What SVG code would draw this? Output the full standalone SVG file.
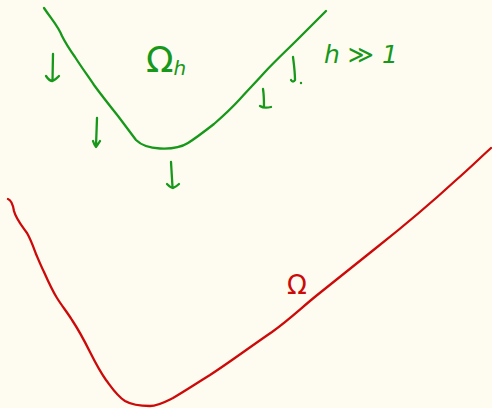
<svg xmlns="http://www.w3.org/2000/svg" width="492" height="408" viewBox="0 0 492 408">
<style>
.g{fill:none;stroke:#17981a;stroke-width:2.3;stroke-linecap:round;stroke-linejoin:round}
.r{fill:none;stroke:#cc0a0a;stroke-width:2.3;stroke-linecap:round;stroke-linejoin:round}
.tg{fill:#17981a;font-family:"DejaVu Sans",sans-serif}
.tr{fill:#cc0a0a;font-family:"DejaVu Sans",sans-serif}
</style>
<rect width="492" height="408" fill="#fefcf0"/>
<g id="omega_h_curve">
<path class="g" d="M44,8 C52,20 58,26 62,36 C66,44 70,50 75,57 C82,68 88,76 94,85 C102,96 110,106 118,116 C124,124 130,132 136,140 C142,146 150,148 160,148.5 C170,149 180,148 188,143 C196,138 205,131 214,124 C222,117 230,110 240,99 C248,90 256,82 264,73 C275,61 286,51 297,40 C307,30 316,21 326,11"/>
</g>
<g id="omega_curve">
<path class="r" d="M8,199 C11,200 13,205 14,211 C16,219 22,226 27,233 C31,240 33,246 36,254 C39,261 41,266 44,272 C48,281 52,290 57,298 C62,306 67,312 72,320 C78,329 84,340 90,352 C95,362 99,370 106,380 C112,388 117,396 125,401 C132,405 140,406 150,406 C158,406 165,402 173,398 C185,391 197,383 210,375 C230,362 250,347 272,332 C290,319 300,309 316,296 C336,280 356,264 376,248 C400,229 430,204 455,181 C470,168 481,157 491,148"/>
</g>
<g id="arrows">
<path class="g" d="M53,54 L52.5,81 M46,76 C48,79 50,81 52.5,81 C55,80 57,78 59,76"/>
<path class="g" d="M97,118 L96,146 M93,141 C94,144 95,146 96,147 C97,145 99,143 100,141"/>
<path class="g" d="M171,162 L172.5,187 M167,184 C169,186 171,188 173,188 C175,187 177,186 179,184"/>
<path class="g" d="M263,89 C264,95 264,101 264,107 M260,106 C263,108 267,108 271,107"/>
<path class="g" d="M293,57 C294,65 295,72 295,80 C294,82 292,82 291,80"/>
<circle cx="301" cy="83" r="1.2" fill="#17981a"/>
</g>
<g id="labels">
<text class="tg" x="146" y="72" font-size="36">Ω<tspan font-size="20" dy="3" font-style="italic">h</tspan></text>
<text class="tg" x="324" y="63" font-size="25" font-style="italic">h ≫ 1</text>
<text class="tr" x="287" y="294" font-size="26">Ω</text>
</g>
</svg>
